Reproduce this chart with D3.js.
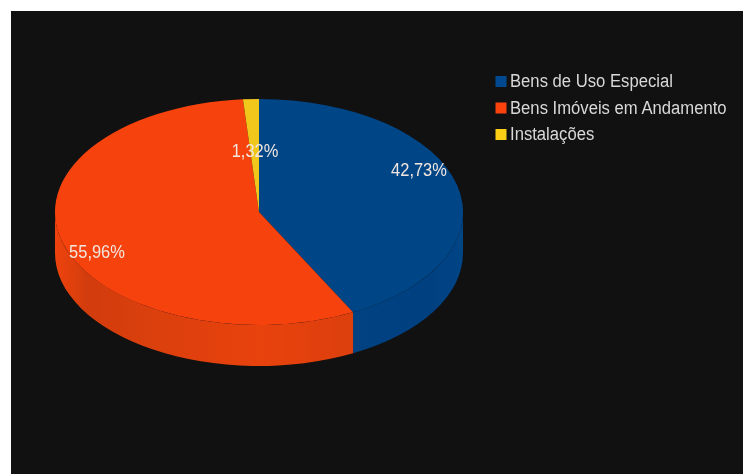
<!DOCTYPE html>
<html><head><meta charset="utf-8">
<style>html,body{margin:0;padding:0;background:#fff}svg{display:block}</style>
<script src="https://cdn.jsdelivr.net/npm/d3@7"></script></head>
<body><svg id="c" width="743" height="474"></svg>
<script>
const categories = ["Bens de Uso Especial","Bens Imóveis em Andamento","Instalações"];
const values = [42.73,55.96,1.32];
const labels = ["42,73%","55,96%","1,32%"];
const colors = ["#004586","#f6420d","#f2c71e"];
const legendColors = ["#004a90","#fb420e","#fccf14"];
const wallEdge = ["#004484","#ee430d","#e0b81c"];
const wallDark = ["#004181","#d23d0c","#c9a41a"];
const wallLight = ["#004383","#e8430d","#e0b81c"];
const labelPos = [[419,170],[97,252],[255,151]];

const W=743,H=474, cx=259, cy=212, rx=204, ry=113, depth=41;
const svg=d3.select("#c");
svg.append("rect").attr("x",11).attr("y",11).attr("width",W-11).attr("height",H-11).attr("fill","#111111");
const defs=svg.append("defs");
defs.append("filter").attr("id","soft").append("feGaussianBlur").attr("stdDeviation",0.5);
const g=svg.append("g").attr("filter","url(#soft)");

// slight foreshortening of the 3D view: front angles appear a little narrower
const warp=a=>a-0.05*Math.sin(a);
const pie=d3.pie().sort(null).value(d=>d);
const arcs=pie(values).map(a=>({...a,startAngle:warp(a.startAngle),endAngle:warp(a.endAngle)}));
const pt=(a,dy=0)=>[cx+rx*Math.sin(a), cy-ry*Math.cos(a)+dy];

arcs.forEach((a,i)=>{
  const s=Math.max(a.startAngle,Math.PI/2), e=Math.min(a.endAngle,3*Math.PI/2);
  if(e<=s) return;
  const id="wall"+i;
  const p0=pt(s),p1=pt(e);
  const lg=defs.append("linearGradient").attr("id",id).attr("gradientUnits","userSpaceOnUse")
    .attr("x1",cx-rx).attr("x2",cx+rx).attr("y1",0).attr("y2",0);
  lg.append("stop").attr("offset",0).attr("stop-color",wallEdge[i]);
  lg.append("stop").attr("offset",0.08).attr("stop-color",wallDark[i]);
  lg.append("stop").attr("offset",0.5).attr("stop-color",wallLight[i]);
  lg.append("stop").attr("offset",0.92).attr("stop-color",wallDark[i]);
  lg.append("stop").attr("offset",1).attr("stop-color",wallEdge[i]);
  const large=(e-s)>Math.PI?1:0;
  const q0=pt(e,depth),q1=pt(s,depth);
  const d=`M${p0}A${rx},${ry} 0 ${large} 1 ${p1}L${q0}A${rx},${ry} 0 ${large} 0 ${q1}Z`;
  g.append("path").attr("d",d).attr("fill",`url(#${id})`);
});

const arc=d3.arc().innerRadius(0).outerRadius(rx);
const face=g.append("g").attr("transform",`translate(${cx},${cy}) scale(1,${ry/rx})`);
face.selectAll("path").data(arcs).join("path").attr("d",arc).attr("fill",(d,i)=>colors[i]);

const condense=(sel,f)=>sel.each(function(){
  d3.select(this).attr("textLength",this.getComputedTextLength()*f).attr("lengthAdjust","spacingAndGlyphs");
});

const vals=g.selectAll("text.v").data(labels).join("text").attr("class","v")
  .attr("x",(d,i)=>labelPos[i][0]).attr("y",(d,i)=>labelPos[i][1]+6)
  .attr("text-anchor","middle").attr("font-family","Liberation Sans").attr("font-size",18)
  .attr("fill","#f2e6df").text(d=>d);
condense(vals,0.915);

const ly=d3.scalePoint().domain(categories).range([81.5,134.5]);
const leg=g.selectAll("g.l").data(categories).join("g").attr("class","l")
  .attr("transform",d=>`translate(0,${ly(d)})`);
leg.append("rect").attr("x",495.5).attr("y",-5.5).attr("width",11).attr("height",11).attr("fill",(d,i)=>legendColors[i]);
const lt=leg.append("text").attr("x",510).attr("y",5.5).attr("font-family","Liberation Sans").attr("font-size",18)
  .attr("fill","#d8d8d8").text(d=>d);
condense(lt,0.925);
</script></body></html>
